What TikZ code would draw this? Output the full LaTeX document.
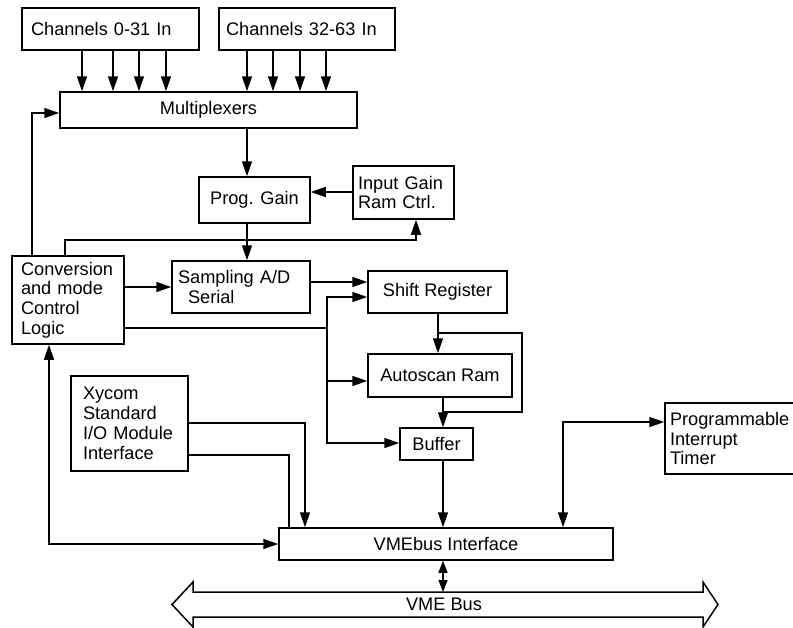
\documentclass[tikz,border=0pt]{standalone}
\usepackage{fontspec}
\setmainfont{Liberation Sans}
\usetikzlibrary{arrows.meta}
\begin{document}
\begin{tikzpicture}[x=1pt,y=-1pt,
  txt/.style={font=\fontsize{18.2}{19.8}\selectfont},
  blk/.style={txt, draw, line width=1.5pt, inner sep=0pt},
  lblk/.style={blk, align=left, execute at begin node={\hyphenpenalty=10000\relax}},
  wire/.style={line width=1.5pt},
  arr/.style={wire, -{Triangle[length=15pt,width=10pt]}},
  darr/.style={wire, {Triangle[length=15pt,width=10pt]}-{Triangle[length=15pt,width=10pt]}},
  sdarr/.style={wire, {Triangle[length=12pt,width=9pt]}-{Triangle[length=12pt,width=9pt]}},
]
\useasboundingbox (0,0) rectangle (793,627);

% blocks
\node[lblk, minimum width=177pt, minimum height=42pt, text width=159pt] (ch0) at (110.5,29) {Channels 0-31 In};
\node[lblk, minimum width=176pt, minimum height=42pt, text width=162pt] (ch32) at (307,29) {Channels 32-63 In};
\node[blk, minimum width=297pt, minimum height=36pt] (mux) at (208.5,110) {Multiplexers};
\node[blk, minimum width=111pt, minimum height=46pt] (pga) at (254.5,200) {Prog. Gain};
\node[lblk, minimum width=101pt, minimum height=53pt, text width=91pt] (igr) at (403.5,192.5) {Input Gain\\Ram Ctrl.};
\node[lblk, minimum width=112pt, minimum height=88pt, text width=94pt] (conv) at (68,300) {Conversion\\and mode\\Control\\Logic};
\node[lblk, minimum width=138pt, minimum height=52pt, text width=126pt] (adc) at (241,287) {Sampling A/D\\\hspace*{10pt}Serial};
\node[blk, minimum width=139pt, minimum height=42pt] (shift) at (437.5,292) {Shift Register};
\node[blk, minimum width=144pt, minimum height=43pt] (auto) at (440,375.5) {Autoscan Ram};
\node[blk, minimum width=73pt, minimum height=32pt] (buf) at (436.5,444) {Buffer};
\node[lblk, minimum width=117pt, minimum height=95pt, text width=93pt] (xy) at (129.5,423.5) {Xycom\\Standard\\I/O Module\\Interface};
\node[blk, minimum width=334pt, minimum height=32pt] (vme) at (446,544) {VMEbus Interface};
\node[lblk, minimum width=130pt, minimum height=71pt, text width=120pt] (pit) at (730,438.5) {Programmable\\Interrupt\\Timer};

% channel inputs
\foreach \x in {82,113,139,166}
  \draw[arr] (\x,0 |- ch0.south) -- (\x,0 |- mux.north);
\foreach \x in {247,273,300,326}
  \draw[arr] (\x,0 |- ch32.south) -- (\x,0 |- mux.north);

% analog path
\draw[arr] (247,0 |- mux.south) -- (247,0 |- pga.north);
\draw[arr] (igr.west |- 0,192) -- (pga.east |- 0,192);
\draw[arr] (247,0 |- pga.south) -- (247,0 |- adc.north);
\draw[arr] (conv.east |- 0,287) -- (adc.west |- 0,287);
\draw[arr] (adc.east |- 0,282) -- (shift.west |- 0,282);

% control logic outputs
\draw[arr] (32,0 |- conv.north) |- (mux.west |- 0,113);
\draw[arr] (65,0 |- conv.north) -- (65,240) -| (416,0 |- igr.south);
\coordinate (j1) at (327,328);
\draw[wire] (conv.east |- j1) -- (j1);
\draw[arr] (j1) |- (shift.west |- 0,297);
\draw[arr] (j1) |- (buf.west |- 0,443);
\draw[arr] (327,381) -- (auto.west |- 0,381);

% data path to the bus
\draw[arr] (438,0 |- shift.south) -- (438,0 |- auto.north);
\draw[wire] (438,333) -- (522,333) -- (522,412) -- (443,412);
\draw[arr] (443,0 |- auto.south) -- (443,0 |- buf.north);
\draw[arr] (443,0 |- buf.south) -- (443,0 |- vme.north);

% I/O module and timer
\draw[arr] (xy.east |- 0,423) -| (305,0 |- vme.north);
\draw[wire] (xy.east |- 0,455) -| (289,0 |- vme.north);
\draw[darr] (49,0 |- conv.south) |- (vme.west |- 0,544);
\draw[darr] (563,0 |- vme.north) |- (pit.west |- 0,422);

% VME bus
\draw[wire] (172,604.5) -- (193,582) -- (193,592) -- (703,592) -- (703,582)
  -- (718,604.5) -- (703,627) -- (703,617) -- (193,617) -- (193,627) -- cycle;
\node[txt] (bus) at (444,604) {VME Bus};
\coordinate (bustop) at (443,592);
\draw[sdarr] (443,0 |- vme.south) -- (bustop);
\end{tikzpicture}
\end{document}
